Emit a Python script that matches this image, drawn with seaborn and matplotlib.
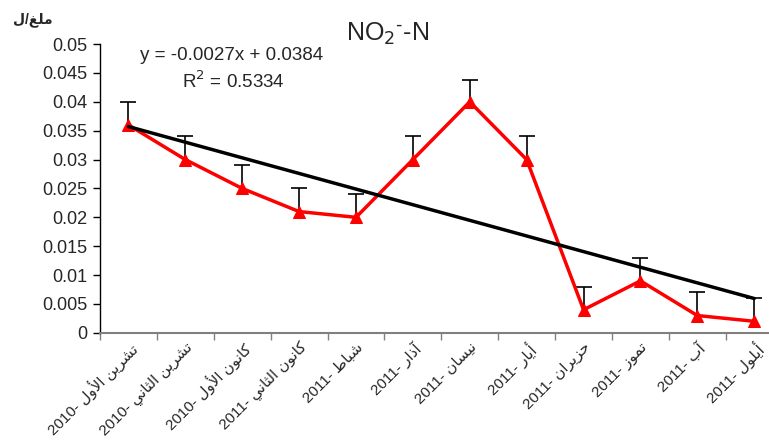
import numpy as np
import pandas as pd
import matplotlib
matplotlib.use("Agg")
import matplotlib.pyplot as plt
import matplotlib.transforms as mtransforms
import seaborn as sns

# ---- data ----
months = ["تشرين الأول", "تشرين الثاني", "كانون الأول", "كانون الثاني", "شباط", "آذار",
          "نيسان", "أيار", "حزيران", "تموز", "آب", "أيلول"]
years = ["2010", "2010", "2010", "2011", "2011", "2011",
         "2011", "2011", "2011", "2011", "2011", "2011"]
no2_values = [0.036, 0.030, 0.025, 0.021, 0.020, 0.030, 0.040, 0.030, 0.004, 0.009, 0.003, 0.002]
no2_errors = [0.004, 0.004, 0.004, 0.004, 0.004, 0.004, 0.0037, 0.004, 0.004, 0.004, 0.004, 0.004]
y_ticks = [0, 0.005, 0.01, 0.015, 0.02, 0.025, 0.03, 0.035, 0.04, 0.045, 0.05]
y_tick_labels = ["0", "0.005", "0.01", "0.015", "0.02", "0.025", "0.03", "0.035", "0.04", "0.045", "0.05"]
equation_text = "y = -0.0027x + 0.0384"
r2_text = "R$^2$ = 0.5334"
title_text = "NO$_2$$^{\\text{-}}$-N"
unit_label = "ملغ/ل"

# ---- minimal Arabic shaping (presentation forms) for matplotlib ----
DUAL = {"ب": 0xFE8F, "ت": 0xFE95, "ث": 0xFE99, "ح": 0xFEA1, "س": 0xFEB1, "ش": 0xFEB5,
        "ط": 0xFEC1, "غ": 0xFECD, "ك": 0xFED9, "ل": 0xFEDD, "م": 0xFEE1, "ن": 0xFEE5,
        "ي": 0xFEF1}
RIGHT = {"ا": 0xFE8D, "أ": 0xFE83, "آ": 0xFE81, "ذ": 0xFEAB, "ر": 0xFEAD, "ز": 0xFEAF,
         "و": 0xFEED}
LAMALEF = {"آ": 0xFEF5, "أ": 0xFEF7, "ا": 0xFEFB}


def shape_rtl(text):
    ch = list(text)
    out = []
    i = 0
    n = len(ch)
    while i < n:
        c = ch[i]
        prev = i > 0 and ch[i - 1] in DUAL
        if c == "ل" and i + 1 < n and ch[i + 1] in LAMALEF:
            base = LAMALEF[ch[i + 1]]
            out.append(chr(base + (1 if prev else 0)))
            i += 2
            continue
        if c in DUAL:
            nxt = i + 1 < n and (ch[i + 1] in DUAL or ch[i + 1] in RIGHT)
            off = 3 if (prev and nxt) else 2 if nxt else 1 if prev else 0
            out.append(chr(DUAL[c] + off))
        elif c in RIGHT:
            out.append(chr(RIGHT[c] + (1 if prev else 0)))
        else:
            out.append(c)
        i += 1
    return "".join(reversed(out))


x_labels = [f"{y}- {shape_rtl(m)}" for m, y in zip(months, years)]

# ---- plot ----
sns.set_style("white")
plt.rcParams["font.family"] = ["Liberation Sans", "DejaVu Sans"]

fig = plt.figure(figsize=(7.69, 4.45), dpi=100)
ax = fig.add_axes([0.130, 0.252, 0.870, 0.649])

pos = np.arange(len(no2_values))
df = pd.DataFrame({"pos": pos, "value": no2_values, "err": no2_errors})

eb = ax.errorbar(df["pos"], df["value"], yerr=[np.zeros(len(df)), df["err"]], fmt="none",
                 ecolor="black", elinewidth=1.2, capsize=6, capthick=1.2, zorder=2)
# hide the lower caps (only upper error bars in the reference)
eb[1][0].set_visible(False)

sns.lineplot(data=df, x="pos", y="value", color="#ff0000", linewidth=2.5, marker="^",
             markersize=9, markeredgecolor="#ff0000", ax=ax, zorder=3)
sns.regplot(data=df, x="pos", y="value", scatter=False, ci=None, truncate=True,
            line_kws={"color": "black", "linewidth": 2.5, "zorder": 4}, ax=ax)

ax.set_xlim(-0.5, 11.26)
ax.set_ylim(0, 0.05)
ax.set_yticks(y_ticks)
ax.set_yticklabels(y_tick_labels, fontsize=13)
ax.set_xticks(pos)
ax.set_xticklabels(x_labels, rotation=45, ha="right", va="top", rotation_mode="anchor",
                   fontsize=11)
offset = mtransforms.ScaledTranslation(-9 / 100, 0, fig.dpi_scale_trans)
for lab in ax.get_xticklabels():
    lab.set_transform(lab.get_transform() + offset)
ax.set_xticks(np.arange(-0.5, 11.5, 1.0), minor=True)
ax.tick_params(axis="x", which="major", length=0, pad=5)
ax.tick_params(axis="x", which="minor", length=5, width=1, color="#808080", bottom=True)
ax.tick_params(axis="y", which="major", length=5, width=1, color="black", left=True, pad=4)
ax.set_xlabel("")
ax.set_ylabel("")

for s in ["top", "right"]:
    ax.spines[s].set_visible(False)
ax.spines["left"].set_color("black")
ax.spines["left"].set_linewidth(1)
ax.spines["bottom"].set_color("#808080")
ax.spines["bottom"].set_linewidth(1.5)

fig.text(232 / 769, 1 - 56 / 445, equation_text, fontsize=13.5, ha="center", va="center")
fig.text(233 / 769, 1 - 81 / 445, r2_text, fontsize=13.5, ha="center", va="center")
fig.text(388 / 769, 1 - 34 / 445, title_text, fontsize=18, ha="center", va="center")
fig.text(33 / 769, 1 - 20 / 445, shape_rtl(unit_label), fontsize=10, fontweight="bold",
         ha="center", va="center")

fig.savefig("out.png", dpi=100)
